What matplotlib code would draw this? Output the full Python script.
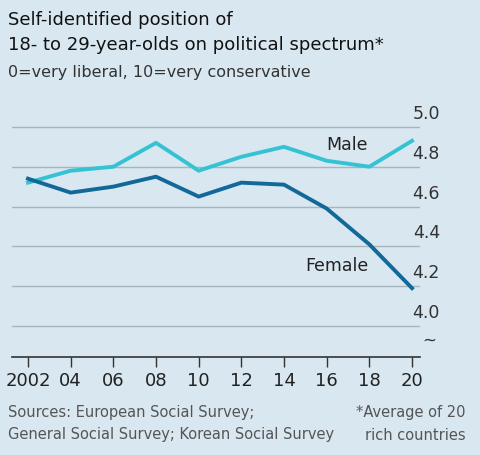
import matplotlib.pyplot as plt
import matplotlib.transforms as mtrans

years = [2002, 2004, 2006, 2008, 2010, 2012, 2014, 2016, 2018, 2020]
year_labels = ["2002", "04", "06", "08", "10", "12", "14", "16", "18", "20"]
male = [4.72, 4.78, 4.80, 4.92, 4.78, 4.85, 4.90, 4.83, 4.80, 4.93]
female = [4.74, 4.67, 4.70, 4.75, 4.65, 4.72, 4.71, 4.59, 4.41, 4.19]
y_ticks = [4.0, 4.2, 4.4, 4.6, 4.8, 5.0]

bg = "#d8e7f0"
W, H = 480, 455
fig = plt.figure(figsize=(4.8, 4.55), dpi=100, facecolor=bg)
ax = fig.add_axes([12 / W, 1 - 357 / H, (420 - 12) / W, (357 - 112) / H])
ax.set_facecolor(bg)
ax.set_xlim(2001.25, 2020.375)
ax.set_ylim(3.844, 5.075)

for v in y_ticks:
    ax.axhline(v, color="#a9b4bb", lw=1, zorder=1)

ax.plot(years, male, color="#35c3d3", lw=2.8, zorder=3)
ax.plot(years, female, color="#13689a", lw=2.8, zorder=3)
ax.text(2016.0, 4.91, "Male", fontsize=12.5, color="#222222", ha="left", va="center")
ax.text(2015.0, 4.30, "Female", fontsize=12.5, color="#222222", ha="left", va="center")

trans = mtrans.blended_transform_factory(fig.transFigure, ax.transData)
for v in y_ticks:
    fig.text(440 / W, v + 0.02, f"{v:.1f}", transform=trans, ha="right",
             va="bottom", fontsize=12.5, color="#333333")
fig.text(436 / W, 1 - 341 / H, "~", ha="right", va="center", fontsize=12, color="#333333")

for s in ["top", "right", "left"]:
    ax.spines[s].set_visible(False)
ax.spines["bottom"].set_color("#333333")
ax.spines["bottom"].set_linewidth(1.2)
ax.set_yticks([])
ax.set_xticks(years)
ax.set_xticklabels(year_labels, fontsize=13, color="#222222")
ax.tick_params(axis="x", length=7, width=1, color="#333333", pad=4)

fig.text(8 / W, 1 - 20 / H, "Self-identified position of", fontsize=13, color="#111111", va="center")
fig.text(8 / W, 1 - 45 / H, "18- to 29-year-olds on political spectrum*", fontsize=13, color="#111111", va="center")
fig.text(8 / W, 1 - 72 / H, "0=very liberal, 10=very conservative", fontsize=11.5, color="#333333", va="center")
fig.text(8 / W, 1 - 413 / H, "Sources: European Social Survey;", fontsize=10.5, color="#555555", va="center")
fig.text(8 / W, 1 - 435 / H, "General Social Survey; Korean Social Survey", fontsize=10.5, color="#555555", va="center")
fig.text(466 / W, 1 - 413 / H, "*Average of 20", fontsize=10.5, color="#555555", va="center", ha="right")
fig.text(466 / W, 1 - 435 / H, "rich countries", fontsize=10.5, color="#555555", va="center", ha="right")

fig.savefig("out.png", dpi=100, facecolor=bg)
